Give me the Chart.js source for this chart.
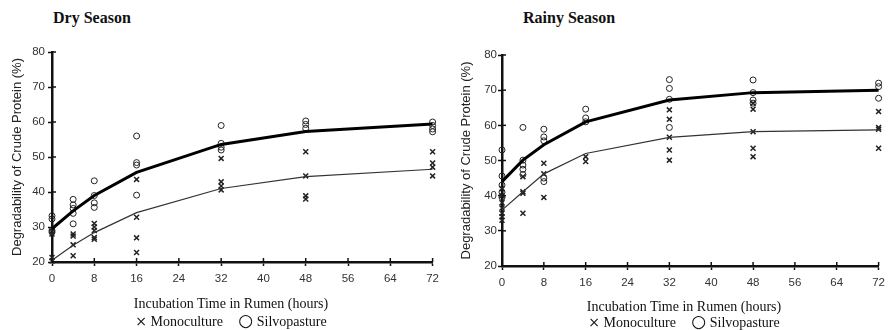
<!DOCTYPE html>
<html lang="en">
<head>
<meta charset="utf-8">
<title>Degradability of Crude Protein</title>
<script src="https://cdn.jsdelivr.net/npm/chart.js@4.4.1/dist/chart.umd.min.js"></script>
<style>
    html, body { margin: 0; padding: 0; background: #fff; }
    #contenedor { position: relative; width: 891px; height: 330px; overflow: hidden; }
    canvas { position: absolute; top: 0; }
    #graficaSeca { left: 0; }
    #graficaLluvia { left: 445px; }
    .titulo { position: absolute; font: bold 16px "Liberation Serif", serif; line-height: 18px; color: #111; }
    .texto { position: absolute; font: 14px "Liberation Serif", serif; line-height: 18px; color: #111; white-space: nowrap; transform: translateX(-50%); }
    .texto .simbolo { font-family: "DejaVu Sans", sans-serif; font-size: 14px; }
    .texto .circulo { font-size: 17px; margin-left: 12px; }
</style>
</head>
<body>
<div id="contenedor">
    <div class="titulo" style="left:53px; top:9px;">Dry Season</div>
    <div class="titulo" style="left:523px; top:9px;">Rainy Season</div>
    <canvas id="graficaSeca" width="445" height="330"></canvas>
    <canvas id="graficaLluvia" width="446" height="330"></canvas>
    <div class="texto" style="left:231px; top:295px;">Incubation Time in Rumen (hours)</div>
    <div class="texto" style="left:231px; top:311px;"><span class="simbolo">×</span> Monoculture <span class="simbolo circulo">○</span> Silvopasture</div>
    <div class="texto" style="left:684px; top:298px;">Incubation Time in Rumen (hours)</div>
    <div class="texto" style="left:684px; top:312px;"><span class="simbolo">×</span> Monoculture <span class="simbolo circulo">○</span> Silvopasture</div>
</div>
<script>
// Horas de incubación donde se midió
const horas = [0, 4, 8, 16, 32, 48, 72];
const ticksX = [0, 8, 16, 24, 32, 40, 48, 56, 64, 72];
const ticksY = [20, 30, 40, 50, 60, 70, 80];

// Curvas ajustadas (época seca)
const secaSilvoCurva = [29.5, 34.6, 39.0, 45.6, 53.6, 57.3, 59.4];
const secaMonoCurva = [20.5, 24.8, 28.4, 34.1, 41.0, 44.4, 46.5];

// Observaciones por hora (época seca)
const secaSilvoObs = [
    [33.2, 32.3, 29.0, 28.5],
    [37.9, 36.3, 35.3, 33.9, 30.9],
    [43.2, 39.0, 36.9, 35.6],
    [56.0, 48.4, 47.7, 39.1],
    [59.0, 53.9, 52.8, 52.0],
    [60.3, 59.3, 58.2],
    [60.0, 59.0, 58.0, 57.2]
];
const secaMonoObs = [
    [28.8, 28.0, 21.3, 20.3],
    [28.0, 27.4, 24.9, 21.8],
    [31.0, 30.0, 29.0, 27.0, 26.5],
    [43.6, 32.8, 26.9, 22.7],
    [49.6, 42.9, 41.7, 40.6],
    [51.5, 44.6, 38.9, 38.0],
    [51.5, 48.3, 47.1, 44.6]
];

// Curvas ajustadas (época de lluvias)
const lluviaSilvoCurva = [44.0, 50.1, 54.5, 61.0, 67.2, 69.3, 70.0];
const lluviaMonoCurva = [35.9, 41.1, 46.2, 52.0, 56.6, 58.2, 58.7];

// Observaciones por hora (época de lluvias)
const lluviaSilvoObs = [
    [53.0, 45.6, 43.0, 41.0, 39.5],
    [59.4, 50.1, 48.7, 47.5, 46.0],
    [58.9, 56.7, 55.6, 45.0, 44.0],
    [64.6, 62.1, 61.0],
    [73.0, 70.5, 67.4, 59.4],
    [72.9, 69.3, 67.2, 66.3],
    [72.0, 71.0, 67.7]
];
const lluviaMonoObs = [
    [42.0, 40.0, 38.0, 36.5, 35.0, 34.0, 33.0],
    [45.4, 41.1, 40.7, 35.0],
    [49.2, 46.2, 39.5],
    [51.1, 49.7],
    [64.4, 61.7, 56.6, 53.0, 50.1],
    [66.3, 64.6, 58.2, 53.5, 51.1],
    [63.9, 59.4, 58.9, 53.5]
];

Chart.defaults.font.family = "'Liberation Sans', Arial, sans-serif";

// Marcas de los ejes que cruzan hacia dentro del área
const marcasInternas = {
    id: "marcasInternas",
    afterDraw(chart) {
        const { ctx, chartArea, scales: { x, y } } = chart;
        ctx.save();
        ctx.strokeStyle = "#111";
        ctx.lineWidth = 1.5;
        x.ticks.forEach(t => {
            const px = x.getPixelForValue(t.value);
            ctx.beginPath();
            ctx.moveTo(px, chartArea.bottom);
            ctx.lineTo(px, chartArea.bottom - 4);
            ctx.stroke();
        });
        y.ticks.forEach(t => {
            const py = y.getPixelForValue(t.value);
            ctx.beginPath();
            ctx.moveTo(chartArea.left, py);
            ctx.lineTo(chartArea.left + 4, py);
            ctx.stroke();
        });
        ctx.restore();
    }
};

function aPuntos(valores) {
    return horas.map((h, i) => ({ x: h, y: valores[i] }));
}

function aObservaciones(grupos) {
    const puntos = [];
    grupos.forEach((grupo, i) => grupo.forEach(v => puntos.push({ x: horas[i], y: v })));
    return puntos;
}

function generarDatasets(silvoCurva, monoCurva, silvoObs, monoObs) {
    return [
        { label: "Silvopasture fit", data: aPuntos(silvoCurva), showLine: true, borderColor: "#000", borderWidth: 3, pointRadius: 0, clip: false, order: 1 },
        { label: "Monoculture fit", data: aPuntos(monoCurva), showLine: true, borderColor: "#333", borderWidth: 1.2, pointRadius: 0, clip: false, order: 2 },
        { label: "Silvopasture", data: aObservaciones(silvoObs), pointStyle: "circle", pointRadius: 3, backgroundColor: "rgba(0,0,0,0)", borderColor: "#222", borderWidth: 1, clip: false, order: 3 },
        { label: "Monoculture", data: aObservaciones(monoObs), pointStyle: "crossRot", pointRadius: 3.5, borderColor: "#222", borderWidth: 1.5, clip: false, order: 4 }
    ];
}

function crearGrafico(id, datasets, cfg) {
    const ctx = document.getElementById(id).getContext("2d");
    return new Chart(ctx, {
        type: "scatter",
        data: { datasets },
        options: {
            responsive: false,
            animation: false,
            devicePixelRatio: 1,
            layout: { padding: { left: 0, top: cfg.arriba, right: cfg.derecha, bottom: 0 } },
            plugins: { legend: { display: false }, tooltip: { enabled: false } },
            scales: {
                x: {
                    type: "linear",
                    min: 0,
                    max: 72,
                    afterBuildTicks: s => { s.ticks = ticksX.map(v => ({ value: v })); },
                    ticks: { padding: 6, color: "#333", font: { size: 11.5 } },
                    grid: { drawOnChartArea: false, tickLength: 4, tickWidth: 1.5, tickColor: "#111" },
                    border: { color: "#111", width: 2.5 },
                    afterFit: s => { s.height = cfg.altoX; }
                },
                y: {
                    min: 20,
                    max: 80,
                    afterBuildTicks: s => { s.ticks = ticksY.map(v => ({ value: v })); },
                    ticks: { padding: cfg.rellenoY, color: "#333", font: { size: 11.5 } },
                    grid: { drawOnChartArea: false, tickLength: 4, tickWidth: 1.5, tickColor: "#111" },
                    border: { color: "#111", width: 2.5 },
                    title: {
                        display: true,
                        text: "Degradability of Crude Protein (%)",
                        color: "#222",
                        font: { size: 13 },
                        padding: { top: cfg.tituloY, bottom: 0 }
                    },
                    afterFit: s => { s.width = cfg.anchoY; }
                }
            }
        },
        plugins: [marcasInternas]
    });
}

document.addEventListener("DOMContentLoaded", () => {
    crearGrafico("graficaSeca",
        generarDatasets(secaSilvoCurva, secaMonoCurva, secaSilvoObs, secaMonoObs),
        { arriba: 52, derecha: 8, altoX: 68, anchoY: 52, tituloY: 10, rellenoY: 3 });
    crearGrafico("graficaLluvia",
        generarDatasets(lluviaSilvoCurva, lluviaMonoCurva, lluviaSilvoObs, lluviaMonoObs),
        { arriba: 55, derecha: 9, altoX: 64, anchoY: 57, tituloY: 14, rellenoY: 1 });
});
</script>
</body>
</html>
